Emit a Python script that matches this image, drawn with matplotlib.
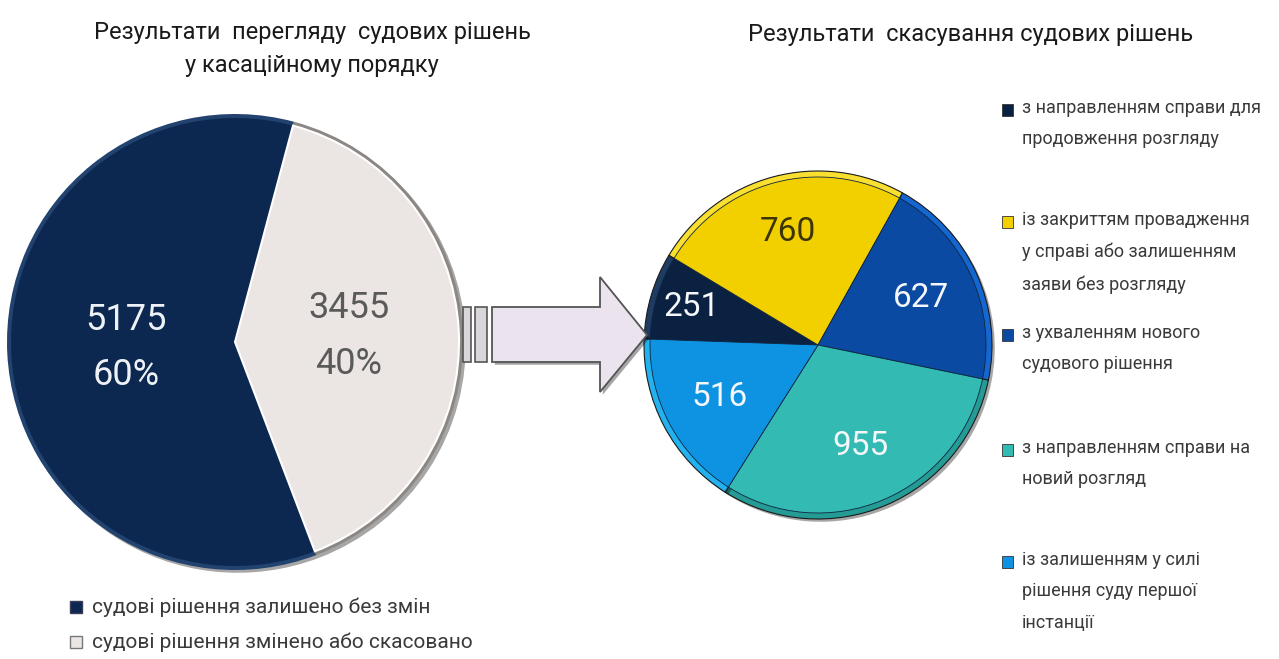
import matplotlib
matplotlib.use('Agg')
import matplotlib.pyplot as plt
import matplotlib.patheffects as pe
from matplotlib.patches import Polygon, Rectangle
import numpy as np

# ---- data ----
review_labels = ['судові рішення залишено без змін',
                 'судові рішення змінено або скасовано']
review_values = [5175, 3455]

cancel_labels = ['з направленням справи для\nпродовження розгляду',
                 'із закриттям провадження\nу справі або залишенням\nзаяви без розгляду',
                 'з ухваленням нового\nсудового рішення',
                 'з направленням справи на\nновий розгляд',
                 'із залишенням у силі\nрішення суду першої\nінстанції']
cancel_values = [251, 760, 627, 955, 516]

title_left = 'Результати  перегляду  судових рішень\nу касаційному порядку'
title_right = 'Результати  скасування судових рішень'

review_colors = ['#0c2850', '#ebe6e4']
review_rims = ['#22436f', '#8c8783']
cancel_colors = ['#0b2142', '#f2d000', '#0a4aa3', '#33bab2', '#0d93e2']
cancel_rims = ['#1f3c62', '#f8df30', '#1466d0', '#249c95', '#22b2ef']
cancel_text = ['#f5f7fa', '#3d3500', '#f5f7fa', '#f5f7fa', '#f5f7fa']

plt.rcParams['font.family'] = ['Roboto', 'DejaVu Sans']

W, H = 1279, 659
def Y(y):
    return H - y

fig = plt.figure(figsize=(W / 100, H / 100), dpi=100)
ax = fig.add_axes([0, 0, 1, 1])

shadow = [pe.SimplePatchShadow(offset=(2, -2), shadow_rgbFace='k', alpha=0.35), pe.Normal()]

# ---- left pie ----
lc = (235, Y(342))
lr = 228
ex = [0, 0.015]
base, _ = ax.pie(review_values, colors=review_rims, startangle=75, center=lc,
                 radius=lr, explode=ex, frame=True,
                 wedgeprops=dict(linewidth=0))
for w in base:
    w.set_path_effects(shadow)
top, _ = ax.pie(review_values, colors=review_colors, startangle=75, center=lc,
                radius=lr - 4, explode=[e * lr / (lr - 4) for e in ex], frame=True,
                wedgeprops=dict(linewidth=0))
top[1].set_edgecolor('white')
top[1].set_linewidth(1.5)

total = sum(review_values)
review_tc = ['#eef2f6', '#5a5a5a']
for w, v, c, d in zip(top, review_values, review_tc, [0.48, 0.5]):
    ang = np.deg2rad((w.theta1 + w.theta2) / 2)
    x = w.center[0] + d * lr * np.cos(ang)
    y = w.center[1] + d * lr * np.sin(ang)
    ax.text(x, y, f'{v}\n{round(v / total * 100)}%', ha='center', va='center',
            fontsize=26, color=c, linespacing=1.7)

# ---- right pie ----
rc = (818, Y(345))
rr = 174
ex2 = [0.02, 0, 0, 0, 0]
base2, _ = ax.pie(cancel_values, colors=cancel_rims, startangle=178,
                  counterclock=False, center=rc, radius=rr, explode=ex2,
                  frame=True, wedgeprops=dict(linewidth=0.8, edgecolor='#1a1a1a'))
for w in base2:
    w.set_path_effects(shadow)
top2, _ = ax.pie(cancel_values, colors=cancel_colors, startangle=178,
                 counterclock=False, center=rc, radius=rr - 6,
                 explode=[e * rr / (rr - 6) for e in ex2], frame=True,
                 wedgeprops=dict(linewidth=0.6, edgecolor='#10243f'))
for w, v, c, d in zip(top2, cancel_values, cancel_text, [0.76, 0.67, 0.65, 0.63, 0.64]):
    ang = np.deg2rad((w.theta1 + w.theta2) / 2)
    x = w.center[0] + d * rr * np.cos(ang)
    y = w.center[1] + d * rr * np.sin(ang)
    ax.text(x, y, str(v), ha='center', va='center', fontsize=24, color=c)

# ---- arrow ----
ax.add_patch(Rectangle((463, Y(362)), 8, 55, facecolor='#d9d6da', edgecolor='#555555', lw=1.2))
ax.add_patch(Rectangle((475, Y(362)), 12, 55, facecolor='#d9d6da', edgecolor='#555555', lw=1.2))
arrow = [(492, Y(307)), (600, Y(307)), (600, Y(277)), (647, Y(335)),
         (600, Y(392)), (600, Y(362)), (492, Y(362))]
ax.add_patch(Polygon(arrow, closed=True, facecolor='#ebe3ee', edgecolor='#555555',
                     lw=1.3, path_effects=shadow))

# ---- titles ----
ax.text(312, Y(49), title_left, ha='center', va='center', fontsize=17,
        color='#1a1a1a', linespacing=1.55)
ax.text(971, Y(35), title_right, ha='center', va='center', fontsize=17,
        color='#1a1a1a')

# ---- legends ----
for i, (lab, c) in enumerate(zip(review_labels, review_colors)):
    yy = Y(607 + 35 * i)
    ax.add_patch(Rectangle((70, yy - 6), 12, 12, facecolor=c,
                           edgecolor='#777777' if i else '#3a3a5a', lw=1))
    ax.text(92, yy, lab, ha='left', va='center', fontsize=15, color='#3a3a3a')

leg_y = [110, 222, 335, 450, 562]
for lab, c, yy in zip(cancel_labels, cancel_colors, leg_y):
    ax.add_patch(Rectangle((1002, Y(yy) - 6), 11, 12, facecolor=c,
                           edgecolor='#333333', lw=0.6))
    ax.text(1022, Y(yy) + 11, lab, ha='left', va='top', fontsize=13,
            color='#3a3a3a', linespacing=1.95)

ax.set_xlim(0, W)
ax.set_ylim(0, H)
ax.set_aspect('auto')
ax.axis('off')

fig.savefig('out.png', dpi=100)
